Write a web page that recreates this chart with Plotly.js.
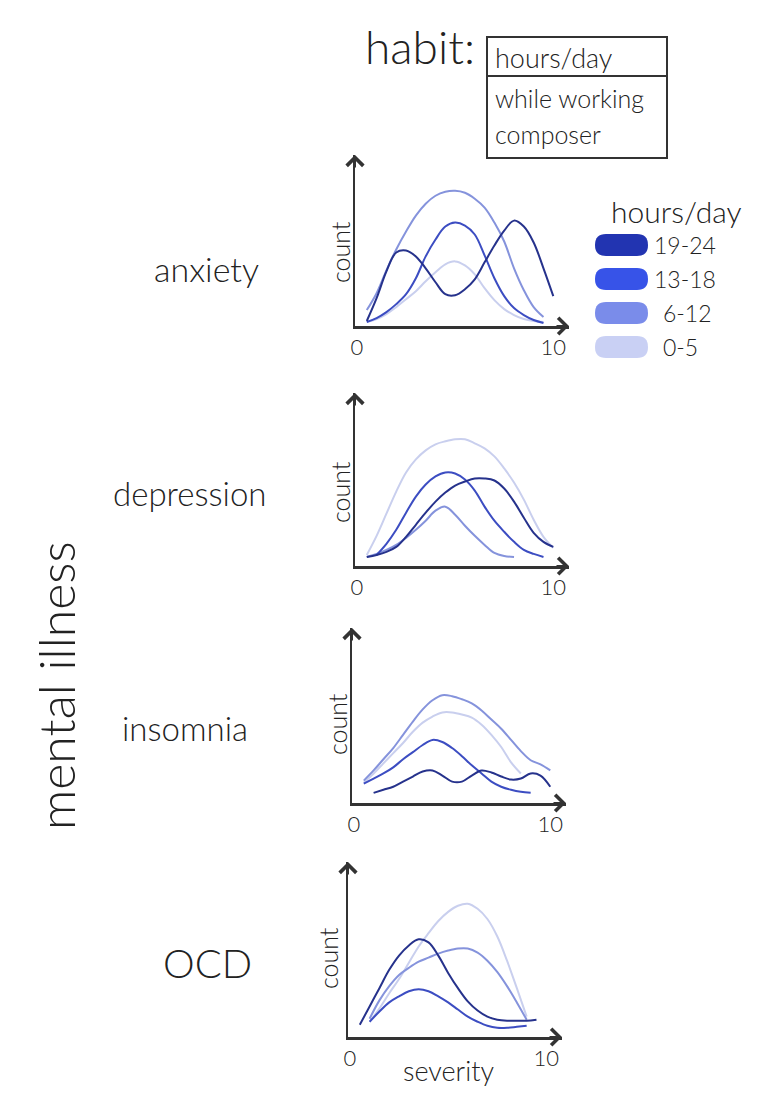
<!DOCTYPE html>
<html>
<head>
<meta charset="utf-8">
<script src="https://cdn.plot.ly/plotly-3.0.1.min.js"></script>
<style>html,body{margin:0;padding:0;background:#fff;}#chart{width:766px;height:1114px;}</style>
</head>
<body>
<div id="chart"></div>
<script>
// ---- data ----
const severity = [0.5,1,1.5,2,2.5,3,3.5,4,4.5,5,5.5,6,6.5,7,7.5,8,8.5,9,9.5,10];
const illnesses = ["anxiety","depression","insomnia","OCD"];
const hourBands = ["0-5","6-12","13-18","19-24"];
const xTickVals = [0,10];
const xTickText = ["0","10"];
const habitOptions = ["hours/day","while working","composer"];

const anxiety_0_5   = [4,7,12,19,27,35,45,54,62,65,61,52,38,26,17,11,7,5,4,null];
const anxiety_6_12  = [16,33,56,77,95,111,123,131,135,136,134,128,119,104,85,58,36,19,9,null];
const anxiety_13_18 = [4,8,14,22,32,48,70,87,100,104,101,92,71,48,30,18,11,6,3,null];
const anxiety_19_24 = [5,28,55,74,76,70,58,44,32,31,37,47,64,81,96,106,100,84,58,30];

const depression_0_5   = [11,30,52,74,93,106,115,121,124,126,126,122,117,109,97,83,66,46,29,18];
const depression_6_12  = [9,12,16,21,28,36,45,55,59,51,40,30,21,13,10,9,null,null,null,null];
const depression_13_18 = [null,11,22,36,53,69,81,89,93,92,86,75,59,45,34,24,16,12,9,null];
const depression_19_24 = [9,11,14,19,29,41,53,64,73,80,84,87,87,85,77,64,48,33,24,19];

const insomnia_0_5   = [20,29,39,49,59,70,79,85,89,89,87,84,77,67,55,40,29,null,null,null];
const insomnia_6_12  = [22,32,43,54,67,80,92,101,106,105,102,98,91,82,73,62,51,42,38,32];
const insomnia_13_18 = [19,24,29,35,43,50,57,62,60,54,46,37,29,21,16,13,11,10,null,null];
const insomnia_19_24 = [null,10,13,16,21,26,31,32,27,21,21,27,32,30,26,23,24,29,27,16];

const ocd_0_5   = [null,15,28,43,57,73,89,102,114,123,129,131,126,116,99,75,48,20,null,null];
const ocd_6_12  = [null,18,36,50,61,68,74,78,82,85,87,87,83,75,64,50,34,17,null,null];
const ocd_13_18 = [null,15,25,34,40,45,47,45,40,34,27,20,15,11,9,9,10,11,null,null];
const ocd_19_24 = [12,30,48,66,80,90,96,93,80,63,48,35,26,20,17,16,16,16,17,null];

const seriesByIllness = [
  [anxiety_0_5, anxiety_6_12, anxiety_13_18, anxiety_19_24],
  [depression_0_5, depression_6_12, depression_13_18, depression_19_24],
  [insomnia_0_5, insomnia_6_12, insomnia_13_18, insomnia_19_24],
  [ocd_0_5, ocd_6_12, ocd_13_18, ocd_19_24]
];

// ---- styling ----
const W = 766, H = 1114;
const px = x => x / W;
const py = y => 1 - y / H;
const FONT = "Lato, 'Open Sans', 'DejaVu Sans', sans-serif";
const FW = 300;
const INK = "#222";
const AXIS = "#333";
const lineColors = ["#c9cfee", "#8593dc", "#3c4dc2", "#26328c"];
const swatchColors = ["#c3cbf3", "#6b80e8", "#2140e6", "#0a1ea8"];
const f = (size) => ({size: size, family: FONT, color: INK, weight: FW});

// panel geometry in pixels: [left, right, top, bottom]
const panels = [
  [355, 569, 155, 326],
  [355, 569, 393, 566],
  [352, 566, 628, 803],
  [348, 562, 862, 1037]
];
const rowLabelPos = [[206, 268, 34], [190, 493, 33], [185, 728, 33], [207, 963, 40]];
const countPos = [[340, 252], [340, 492], [337, 724], [328, 958]];

const traces = [];
const layout = {
  width: W, height: H,
  margin: {l: 0, r: 0, t: 0, b: 0},
  paper_bgcolor: "#fff", plot_bgcolor: "rgba(0,0,0,0)",
  showlegend: false,
  font: {family: FONT, color: INK},
  annotations: [],
  shapes: []
};

illnesses.forEach((name, i) => {
  const k = i + 1;
  const xa = "xaxis" + (k === 1 ? "" : k), ya = "yaxis" + (k === 1 ? "" : k);
  const xr = "x" + (k === 1 ? "" : k), yr = "y" + (k === 1 ? "" : k);
  const [l, r, t, b] = panels[i];
  layout[xa] = {
    domain: [px(l), px(r)], anchor: yr, range: [-0.1, 10.8],
    showgrid: false, zeroline: false, showline: true, linecolor: AXIS, linewidth: 2.5,
    ticks: "", tickvals: xTickVals, ticktext: xTickText,
    tickfont: f(22), fixedrange: true
  };
  layout[ya] = {
    domain: [py(b), py(t)], anchor: xr, range: [0, 172],
    showgrid: false, zeroline: false, showline: true, linecolor: AXIS, linewidth: 2.5,
    showticklabels: false, ticks: "", fixedrange: true
  };
  seriesByIllness[i].forEach((ys, j) => {
    traces.push({
      type: "scatter", mode: "lines", name: hourBands[j] + " h/day",
      x: severity, y: ys, xaxis: xr, yaxis: yr,
      line: {color: lineColors[j], width: 2, shape: "spline", smoothing: 1},
      hoverinfo: "skip"
    });
  });
  // arrowheads at axis ends
  layout.annotations.push({
    xref: xr + " domain", yref: yr + " domain", x: 1, y: 0, ax: -14, ay: 0,
    showarrow: true, arrowhead: 4, arrowsize: 1.6, arrowwidth: 2, arrowcolor: AXIS, text: ""
  });
  layout.annotations.push({
    xref: xr + " domain", yref: yr + " domain", x: 0, y: 1, ax: 0, ay: 14,
    showarrow: true, arrowhead: 4, arrowsize: 1.6, arrowwidth: 2, arrowcolor: AXIS, text: ""
  });
  // row label
  const [rx, ry, rs] = rowLabelPos[i];
  layout.annotations.push({
    xref: "paper", yref: "paper", x: px(rx), y: py(ry), xanchor: "center", yanchor: "middle",
    text: name, showarrow: false, font: f(rs)
  });
  // count label
  layout.annotations.push({
    xref: "paper", yref: "paper", x: px(countPos[i][0]), y: py(countPos[i][1]),
    xanchor: "center", yanchor: "middle", textangle: -90,
    text: "count", showarrow: false, font: f(25)
  });
});

// x axis title (bottom panel only)
layout.annotations.push({
  xref: "paper", yref: "paper", x: px(448), y: py(1070), xanchor: "center", yanchor: "middle",
  text: "severity", showarrow: false, font: f(27)
});
// overall row title
layout.annotations.push({
  xref: "paper", yref: "paper", x: px(56), y: py(686), xanchor: "center", yanchor: "middle",
  textangle: -90, text: "mental illness", showarrow: false, font: f(50)
});

// habit selector box
layout.annotations.push({
  xref: "paper", yref: "paper", x: px(420), y: py(47), xanchor: "center", yanchor: "middle",
  text: "habit:", showarrow: false, font: f(46)
});
layout.shapes.push({type: "rect", xref: "paper", yref: "paper",
  x0: px(487), x1: px(667), y0: py(158), y1: py(37), line: {color: AXIS, width: 2}});
layout.shapes.push({type: "line", xref: "paper", yref: "paper",
  x0: px(487), x1: px(667), y0: py(76), y1: py(76), line: {color: AXIS, width: 2}});
const habitY = [57, 98, 134];
habitOptions.forEach((h, i) => {
  layout.annotations.push({
    xref: "paper", yref: "paper", x: px(493), y: py(habitY[i]), xanchor: "left", yanchor: "middle",
    text: h, showarrow: false, font: f(i === 0 ? 27 : 25)
  });
});

// legend (hours/day) drawn as pill swatches
layout.annotations.push({
  xref: "paper", yref: "paper", x: px(676), y: py(211), xanchor: "center", yanchor: "middle",
  text: "hours/day", showarrow: false, font: f(30)
});
const nb = hourBands.length;
for (let j = nb - 1; j >= 0; j--) {
  const row = nb - 1 - j;
  const cy = 245 + row * 34;
  const xL = 595, xR = 648, h = 11;
  const P = (x, y) => px(x) + "," + py(y);
  const path = "M" + P(xL + h, cy - h) + " L" + P(xR - h, cy - h) +
    " Q" + P(xR, cy - h) + " " + P(xR, cy) + " Q" + P(xR, cy + h) + " " + P(xR - h, cy + h) +
    " L" + P(xL + h, cy + h) + " Q" + P(xL, cy + h) + " " + P(xL, cy) +
    " Q" + P(xL, cy - h) + " " + P(xL + h, cy - h) + " Z";
  layout.shapes.push({type: "path", xref: "paper", yref: "paper", path: path,
    fillcolor: swatchColors[j], opacity: 0.9, line: {width: 0}});
  layout.annotations.push({
    xref: "paper", yref: "paper", x: px(row < 2 ? 652 : 661), y: py(cy), xanchor: "left", yanchor: "middle",
    text: hourBands[j], showarrow: false, font: f(23)
  });
}

Plotly.newPlot("chart", traces, layout, {displayModeBar: false, staticPlot: true});
</script>
</body>
</html>
